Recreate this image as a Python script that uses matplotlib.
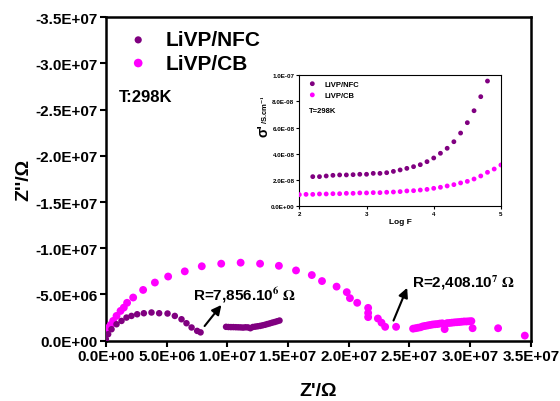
import matplotlib
matplotlib.use('Agg')
import matplotlib.pyplot as plt
from matplotlib.ticker import FormatStrFormatter

plt.rcParams['font.family'] = 'Liberation Sans'
plt.rcParams['font.weight'] = 'bold'
plt.rcParams['mathtext.fontset'] = 'stix'

# Nyquist data, LiVP/NFC (Z', Z'')
nfc_zre = [0.0, 0.19e6, 0.47e6, 0.88e6, 1.29e6, 1.70e6, 2.11e6, 2.58e6, 3.13e6, 3.76e6,
           4.39e6, 5.08e6, 5.68e6, 6.23e6, 6.64e6, 7.06e6, 7.52e6, 7.80e6,
           9.9e6, 10.1e6, 10.3e6, 10.5e6, 10.7e6, 10.9e6, 11.1e6, 11.3e6, 11.5e6, 11.7e6,
           11.9e6, 12.1e6, 12.3e6, 12.5e6, 12.7e6, 12.9e6, 13.1e6, 13.3e6, 13.5e6, 13.7e6,
           13.9e6, 14.1e6, 14.3e6]
nfc_zim = [-0.16e6, -0.70e6, -1.24e6, -1.78e6, -2.14e6, -2.50e6, -2.68e6, -2.86e6, -2.97e6, -3.05e6,
           -2.97e6, -2.94e6, -2.68e6, -2.32e6, -1.89e6, -1.43e6, -1.06e6, -0.90e6,
           -1.50e6, -1.48e6, -1.47e6, -1.47e6, -1.46e6, -1.45e6, -1.44e6, -1.42e6, -1.45e6, -1.44e6,
           -1.35e6, -1.48e6, -1.52e6, -1.56e6, -1.60e6, -1.66e6, -1.72e6, -1.80e6, -1.87e6, -1.95e6,
           -2.02e6, -2.10e6, -2.18e6]

# Nyquist data, LiVP/CB
cb_zre = [0.15e6, 0.39e6, 0.60e6, 0.88e6, 1.21e6, 1.48e6, 1.75e6, 2.25e6, 3.07e6, 4.04e6,
          5.13e6, 6.5e6, 7.9e6, 9.5e6, 11.1e6, 12.7e6, 14.25e6, 15.66e6, 16.96e6, 17.8e6,
          19.0e6, 19.84e6, 20.1e6, 20.7e6, 21.6e6, 21.6e6, 21.6e6, 22.4e6, 22.7e6, 23.0e6,
          23.9e6, 25.3e6, 25.5e6, 25.7e6, 25.9e6, 26.1e6, 26.3e6, 26.5e6, 26.7e6, 26.9e6,
          27.1e6, 27.3e6, 27.5e6, 27.7e6, 27.9e6, 28.1e6, 28.3e6, 28.5e6, 28.7e6, 28.9e6,
          29.1e6, 29.3e6, 29.5e6, 29.7e6, 29.9e6, 30.1e6, 30.2e6, 32.3e6, 34.5e6]
cb_zim = [-1.35e6, -1.70e6, -2.14e6, -2.68e6, -3.22e6, -3.58e6, -4.10e6, -4.67e6, -5.49e6, -6.29e6,
          -6.94e6, -7.50e6, -8.05e6, -8.33e6, -8.44e6, -8.33e6, -8.10e6, -7.60e6, -7.10e6, -6.45e6,
          -5.85e6, -5.25e6, -4.60e6, -4.10e6, -3.55e6, -3.00e6, -2.55e6, -2.40e6, -1.95e6, -1.50e6,
          -1.50e6, -1.30e6, -1.35e6, -1.40e6, -1.45e6, -1.55e6, -1.60e6, -1.65e6, -1.70e6, -1.75e6,
          -1.78e6, -1.80e6, -1.85e6, -1.88e6, -1.25e6, -1.90e6, -1.92e6, -1.95e6, -1.98e6, -2.00e6,
          -2.02e6, -2.05e6, -2.08e6, -2.08e6, -2.10e6, -2.12e6, -1.35e6, -1.35e6, -0.55e6]

# Inset: conductivity vs log F
nfc_logf = [2.2, 2.3, 2.4, 2.5, 2.6, 2.7, 2.8, 2.9, 3.0, 3.1, 3.2, 3.3, 3.4, 3.5,
            3.6, 3.7, 3.8, 3.9, 4.0, 4.1, 4.2, 4.3, 4.4, 4.5, 4.6, 4.7, 4.8]
nfc_sigma = [22.6e-9, 22.6e-9, 23.1e-9, 23.6e-9, 23.9e-9, 23.9e-9, 24.1e-9, 24.4e-9, 24.4e-9,
             25.1e-9, 25.1e-9, 25.6e-9, 26.6e-9, 27.7e-9, 28.9e-9, 30.2e-9, 31.7e-9, 34.0e-9,
             36.8e-9, 40.4e-9, 44.2e-9, 49.2e-9, 55.8e-9, 63.7e-9, 72.8e-9, 83.5e-9, 95.4e-9]
cb_logf = [2.0, 2.1, 2.2, 2.3, 2.4, 2.5, 2.6, 2.7, 2.8, 2.9, 3.0, 3.1, 3.2, 3.3, 3.4, 3.5,
           3.6, 3.7, 3.8, 3.9, 4.0, 4.1, 4.2, 4.3, 4.4, 4.5, 4.6, 4.7, 4.8, 4.9, 5.0]
cb_sigma = [8.9e-9, 9.1e-9, 9.1e-9, 9.4e-9, 9.4e-9, 9.6e-9, 9.6e-9, 9.9e-9, 9.9e-9, 10.2e-9,
            10.2e-9, 10.4e-9, 10.4e-9, 10.7e-9, 10.9e-9, 11.2e-9, 11.7e-9, 11.9e-9, 12.4e-9,
            12.9e-9, 13.7e-9, 14.5e-9, 15.5e-9, 16.5e-9, 17.8e-9, 19.0e-9, 20.8e-9, 23.1e-9,
            25.9e-9, 28.4e-9, 31.5e-9]

purple = '#800080'
magenta = '#ff00ff'

fig = plt.figure(figsize=(5.6, 4.02), dpi=100)
ax = fig.add_axes([0.189, 0.150, 0.759, 0.805])

ax.scatter(cb_zre, cb_zim, s=32, color=magenta, edgecolors='none', label='LiVP/CB', zorder=3)
ax.scatter(nfc_zre, nfc_zim, s=22, color=purple, edgecolors='none', label='LiVP/NFC', zorder=4)

ax.set_xlim(0, 3.5e7)
ax.set_ylim(0, -3.5e7)
ax.set_xticks([i * 5e6 for i in range(8)])
ax.set_yticks([-i * 5e6 for i in range(8)])
ax.xaxis.set_major_formatter(FormatStrFormatter('%.1E'))
ax.yaxis.set_major_formatter(FormatStrFormatter('%.1E'))
ax.tick_params(labelsize=11, width=1.5, length=4, pad=2)
for sp in ax.spines.values():
    sp.set_linewidth(1.8)

ax.set_xlabel("Z'/Ω", fontsize=14, fontweight='bold', labelpad=14)
ax.set_ylabel("Z''/Ω", fontsize=14, fontweight='bold', labelpad=2)

# legend
h, l = ax.get_legend_handles_labels()
ax.legend([h[1], h[0]], [l[1], l[0]], loc='upper left', bbox_to_anchor=(-0.017, 1.017),
          frameon=False, fontsize=15, handletextpad=0.3, labelspacing=0.2,
          scatterpoints=1, markerscale=1.1)
ax.text(0.03, 0.74, 'T:298K', transform=ax.transAxes, fontsize=12, fontweight='bold')

# annotations
ax.annotate('', xy=(9.66e6, -4.1e6), xytext=(7.99e6, -1.35e6),
            arrowprops=dict(arrowstyle='-|>', color='black', lw=1.5, mutation_scale=14))
ax.text(7.2e6, -5.0e6, r'R=7,856.10$^{\mathbf{6}}$ $\Omega$', fontsize=11, fontweight='bold',
        va='center')
ax.annotate('', xy=(24.9e6, -6.0e6), xytext=(23.6e6, -1.9e6),
            arrowprops=dict(arrowstyle='-|>', color='black', lw=1.5, mutation_scale=14))
ax.text(25.2e6, -6.4e6, r'R=2,408.10$^{\mathbf{7}}$ $\Omega$', fontsize=11, fontweight='bold',
        va='center')

# inset
ins = fig.add_axes([0.5345, 0.4843, 0.360, 0.3266])
ins.scatter(nfc_logf, nfc_sigma, s=12, color=purple, edgecolors='none', label='LiVP/NFC', zorder=3)
ins.scatter(cb_logf, cb_sigma, s=12, color=magenta, edgecolors='none', label='LiVP/CB', zorder=3)
ins.set_xlim(2, 5)
ins.set_ylim(0, 1e-7)
ins.set_xticks([2, 3, 4, 5])
ins.set_yticks([0, 2e-8, 4e-8, 6e-8, 8e-8, 1e-7])
ins.yaxis.set_major_formatter(FormatStrFormatter('%.1E'))
ins.xaxis.set_major_formatter(FormatStrFormatter('%d'))
ins.tick_params(labelsize=4.5, width=0.8, length=2, pad=1.5)
for sp in ins.spines.values():
    sp.set_linewidth(0.8)
ins.set_xlabel('Log F', fontsize=6, fontweight='bold', labelpad=1)
# y label of the inset: big sigma, small units
fig.text(263 / 560, 1 - 131 / 402, "σ'", fontsize=10, fontweight='bold', rotation=90,
         ha='center', va='center')
fig.text(264 / 560, 1 - 110 / 402, r"/S.cm$^{\mathbf{-1}}$", fontsize=5.5, fontweight='bold',
         rotation=90, ha='center', va='center')
ins.legend(loc='upper left', frameon=False, fontsize=5.5, handletextpad=0.6,
           labelspacing=0.5, scatterpoints=1, borderaxespad=0.3)
ins.text(0.05, 0.72, 'T=298K', transform=ins.transAxes, fontsize=5.5, fontweight='bold')

fig.savefig('out.png', dpi=100)
